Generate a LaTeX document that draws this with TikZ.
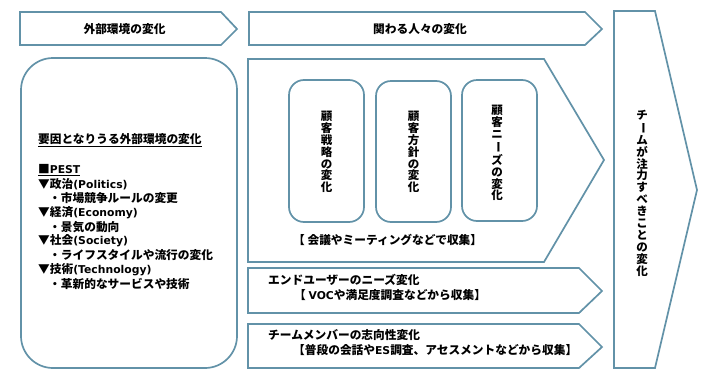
\documentclass[tikz,border=0pt]{standalone}
\usepackage{fontspec}
\usepackage{graphicx}
\setmainfont{Noto Sans CJK JP}
\newfontfamily\lat{DejaVu Sans}
\definecolor{edge}{RGB}{98,146,168}
\newcommand{\vbar}{\rotatebox[origin=c]{-90}{ー}}
\newcommand{\la}[1]{{\lat\fontsize{10.8}{14}\selectfont #1}}
\begin{document}
\begin{tikzpicture}[x=1pt,y=-1pt,
  outl/.style={draw=edge,line width=1.7pt,line join=miter,fill=white},
  lbl/.style={inner sep=0pt,font=\fontsize{11.7}{14}\selectfont\bfseries,text=black},
  vlbl/.style={inner sep=0pt,align=center,font=\fontsize{11.5}{11.9}\selectfont\bfseries,text=black}]
\useasboundingbox (0,0) rectangle (712,386);
% top chevrons
\draw[outl] (20,12) -- (221,12) -- (237,29) -- (221,45) -- (20,45) -- cycle;
\draw[outl] (249,12) -- (585,12) -- (602,29) -- (585,45) -- (249,45) -- cycle;
% right big chevron
\draw[outl] (614,11) -- (655,11) -- (697,190) -- (655,368) -- (614,368) -- cycle;
% left rounded box
\draw[outl,rounded corners=32pt] (21,58) rectangle (237,368);
% middle big pentagon
\draw[outl] (248,59) -- (544,59) -- (604,160) -- (544,262) -- (248,262) -- cycle;
% inner rounded boxes
\draw[outl,rounded corners=15pt] (289,80) rectangle (364,222);
\draw[outl,rounded corners=15pt] (376,81) rectangle (451,222);
\draw[outl,rounded corners=15pt] (462,80) rectangle (537,221);
% lower chevrons
\draw[outl] (248,268) -- (579,268) -- (602,291) -- (579,313) -- (248,313) -- cycle;
\draw[outl] (248,324) -- (579,324) -- (602,347) -- (579,368) -- (248,368) -- cycle;

% titles
\node[lbl] (t1) at (124.5,29) {外部環境の変化};
\node[lbl,anchor=west] (t2) at (373,29) {関わる人々の変化};

% left box text
\node[lbl,anchor=west] (l0) at (38,140) {\underline{要因となりうる外部環境の変化}};
\node[lbl,anchor=west] (l1) at (38,170) {\underline{■\la{PEST}}};
\node[lbl,anchor=west] (l2) at (38,184.2) {▼政治\la{(Politics)}};
\node[lbl,anchor=west] (l3) at (49,198.4) {・市場競争ルールの変更};
\node[lbl,anchor=west] (l4) at (38,212.6) {▼経済\la{(Economy)}};
\node[lbl,anchor=west] (l5) at (49,226.8) {・景気の動向};
\node[lbl,anchor=west] (l6) at (38,241) {▼社会\la{(Society)}};
\node[lbl,anchor=west] (l7) at (49,255.2) {・ライフスタイルや流行の変化};
\node[lbl,anchor=west] (l8) at (38,269.4) {▼技術\la{(Technology)}};
\node[lbl,anchor=west] (l9) at (49,283.6) {・革新的なサービスや技術};

% vertical texts
\node[vlbl] (v1) at (326.5,152) {顧\\客\\戦\\略\\の\\変\\化};
\node[vlbl] (v2) at (413.5,152) {顧\\客\\方\\針\\の\\変\\化};
\node[vlbl] (v3) at (497,153) {顧\\客\\ニ\\\vbar\\ズ\\の\\変\\化};
\node[vlbl] (v4) at (642,193) {チ\\\vbar\\ム\\が\\注\\力\\す\\べ\\き\\こ\\と\\の\\変\\化};

% bracket notes
\node[lbl,anchor=west] (n1) at (293,240) {【 会議やミーティングなどで収集】};
\node[lbl,anchor=west] (n2) at (268,280) {エンドユーザーのニーズ変化};
\node[lbl,anchor=west] (n3) at (294,295) {【 \la{VOC}や満足度調査などから収集】};
\node[lbl,anchor=west] (n4) at (268,335) {チームメンバーの志向性変化};
\node[lbl,anchor=west] (n5) at (293,350) {【普段の会話や\la{ES}調査、アセスメントなどから収集】};
\end{tikzpicture}
\end{document}
